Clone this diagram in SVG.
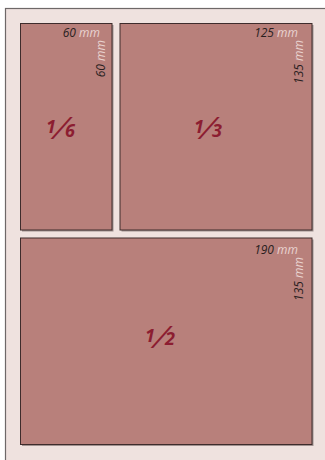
<svg xmlns="http://www.w3.org/2000/svg" width="325" height="460" viewBox="0 0 325 460">
<style>
.page{fill:#efe2df;stroke:#6e6868;stroke-width:1.2}
.shadow{fill:#a09290}
.box{fill:#b8807b;stroke:#3e2c2c;stroke-width:1}
.dim{font-family:"Open Sans","Noto Sans",sans-serif;font-style:italic;font-size:12px}
.num{fill:#2a1f1f}
.mm{fill:#e9d3d0}
.frac{font-family:"Open Sans","Noto Sans",sans-serif;font-style:italic;font-weight:bold;fill:#8c1d31;font-size:18px}
.slash{font-family:"Open Sans","Noto Sans",sans-serif;font-style:italic;font-weight:normal;fill:#8c1d31;font-size:31px}
</style>
<rect width="325" height="460" fill="#ffffff"/>
<rect class="page" x="5.5" y="8.5" width="330" height="460"/>
<g id="node-sixth">
<rect class="shadow" x="22" y="25" width="91.5" height="206.5"/>
<rect class="box" x="20.5" y="23.5" width="91.5" height="206.5"/>
<text class="dim" x="100" y="37" text-anchor="end"><tspan class="num">60</tspan><tspan class="mm"> mm</tspan></text>
<text class="dim" transform="translate(104.5,40) rotate(-90)" text-anchor="end"><tspan class="num">60</tspan><tspan class="mm"> mm</tspan></text>
<text class="frac" x="46" y="133">1</text>
<text class="slash" transform="translate(52,139) skewX(-18)">/</text>
<text class="frac" x="65" y="137">6</text>
</g>
<g id="node-third">
<rect class="shadow" x="121.5" y="25" width="192" height="206.5"/>
<rect class="box" x="120" y="23.5" width="192" height="206.5"/>
<text class="dim" x="298" y="37" text-anchor="end"><tspan class="num">125</tspan><tspan class="mm"> mm</tspan></text>
<text class="dim" transform="translate(302.5,40) rotate(-90)" text-anchor="end"><tspan class="num">135</tspan><tspan class="mm"> mm</tspan></text>
<text class="frac" x="194" y="133">1</text>
<text class="slash" transform="translate(199,139) skewX(-18)">/</text>
<text class="frac" x="212" y="137">3</text>
</g>
<g id="node-half">
<rect class="shadow" x="22" y="239.5" width="291.5" height="206.5"/>
<rect class="box" x="20.5" y="238" width="291.5" height="206.5"/>
<text class="dim" x="298" y="254" text-anchor="end"><tspan class="num">190</tspan><tspan class="mm"> mm</tspan></text>
<text class="dim" transform="translate(302.5,257) rotate(-90)" text-anchor="end"><tspan class="num">135</tspan><tspan class="mm"> mm</tspan></text>
<text class="frac" x="145" y="342">1</text>
<text class="slash" transform="translate(152,348) skewX(-18)">/</text>
<text class="frac" x="165" y="345">2</text>
</g>
<g id="connectors"></g>
</svg>
